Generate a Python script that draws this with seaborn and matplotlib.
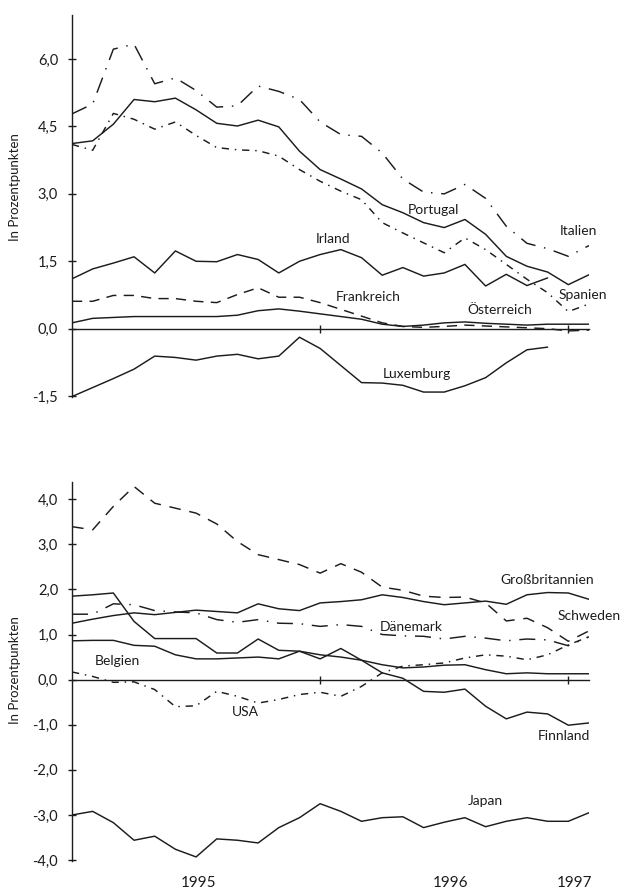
import matplotlib
matplotlib.use("Agg")
import matplotlib.pyplot as plt
import matplotlib.transforms as mtransforms
import pandas as pd
import seaborn as sns

sns.set_style("white")
plt.rcParams["font.family"] = ["Lato", "DejaVu Sans"]

# Monatsindex: 0 = Januar 1995 ... 25 = Februar 1997
jahr_grenzen = [12, 24]
jahre = ["1995", "1996", "1997"]
jahr_pos = [6.1, 18.3, 24.3]

# Oberes Bild: EU-Länder mit hohem Zinsabstand
portugal = [4.12, 4.18, 4.55, 5.10, 5.05, 5.13, 4.87, 4.57, 4.51, 4.64, 4.49, 3.95, 3.54,
            3.33, 3.11, 2.76, 2.58, 2.36, 2.25, 2.43, 2.10, 1.61, 1.39, 1.26, 0.98, 1.20]
italien = [4.78, 5.00, 6.22, 6.33, 5.45, 5.58, 5.30, 4.93, 4.96, 5.40, 5.28, 5.10, 4.60,
           4.32, 4.28, 3.91, 3.33, 3.04, 3.00, 3.21, 2.90, 2.28, 1.90, 1.78, 1.61, 1.85]
spanien = [4.10, 3.97, 4.79, 4.66, 4.44, 4.60, 4.30, 4.03, 3.98, 3.96, 3.84, 3.54, 3.28,
           3.06, 2.87, 2.36, 2.13, 1.91, 1.69, 2.02, 1.76, 1.43, 1.10, 0.80, 0.38, 0.55]
irland = [1.11, 1.33, 1.46, 1.60, 1.24, 1.73, 1.50, 1.49, 1.65, 1.54, 1.24, 1.50, 1.65,
          1.76, 1.58, 1.19, 1.36, 1.17, 1.24, 1.43, 0.95, 1.21, 0.96, 1.13]
frankreich = [0.61, 0.61, 0.74, 0.74, 0.67, 0.67, 0.61, 0.58, 0.76, 0.91, 0.70, 0.70, 0.58,
              0.43, 0.28, 0.13, 0.05, 0.03, 0.05, 0.08, 0.06, 0.04, 0.02, 0.00, -0.05, -0.03]
oesterreich = [0.13, 0.23, 0.25, 0.27, 0.27, 0.27, 0.27, 0.27, 0.30, 0.40, 0.44, 0.39, 0.33,
               0.27, 0.21, 0.10, 0.05, 0.08, 0.13, 0.15, 0.12, 0.10, 0.08, 0.10, 0.10, 0.10]
luxemburg = [-1.51, -1.31, -1.11, -0.90, -0.61, -0.64, -0.70, -0.61, -0.57, -0.67, -0.61, -0.19,
             -0.44, -0.82, -1.20, -1.21, -1.26, -1.41, -1.41, -1.27, -1.09, -0.76, -0.47, -0.41]

# Unteres Bild: übrige Länder
schweden = [3.39, 3.32, 3.84, 4.28, 3.91, 3.80, 3.69, 3.45, 3.06, 2.77, 2.66, 2.55, 2.36,
            2.57, 2.38, 2.05, 1.98, 1.85, 1.82, 1.83, 1.70, 1.30, 1.36, 1.15, 0.85, 1.08]
grossbritannien = [1.25, 1.34, 1.42, 1.48, 1.44, 1.49, 1.54, 1.51, 1.48, 1.68, 1.57, 1.53, 1.70,
                   1.73, 1.77, 1.88, 1.82, 1.73, 1.66, 1.70, 1.74, 1.67, 1.88, 1.93, 1.92, 1.78]
daenemark = [1.45, 1.45, 1.68, 1.66, 1.53, 1.50, 1.48, 1.33, 1.27, 1.33, 1.25, 1.24, 1.18,
             1.22, 1.18, 1.00, 0.97, 0.96, 0.90, 0.96, 0.92, 0.86, 0.90, 0.88, 0.75, 0.95]
finnland = [1.85, 1.88, 1.92, 1.29, 0.91, 0.91, 0.91, 0.59, 0.59, 0.90, 0.65, 0.63, 0.46,
            0.69, 0.43, 0.15, 0.03, -0.26, -0.28, -0.21, -0.59, -0.87, -0.72, -0.76, -1.01, -0.96]
belgien = [0.86, 0.87, 0.87, 0.76, 0.74, 0.55, 0.46, 0.46, 0.48, 0.50, 0.46, 0.63, 0.55,
           0.50, 0.43, 0.33, 0.26, 0.28, 0.32, 0.33, 0.22, 0.13, 0.15, 0.13, 0.13, 0.13]
usa = [0.17, 0.07, -0.06, -0.05, -0.22, -0.60, -0.58, -0.26, -0.37, -0.52, -0.44, -0.33, -0.28,
       -0.37, -0.15, 0.15, 0.30, 0.33, 0.37, 0.48, 0.55, 0.52, 0.44, 0.55, 0.77, 0.95]
japan = [-3.00, -2.92, -3.17, -3.56, -3.47, -3.76, -3.93, -3.53, -3.56, -3.62, -3.28, -3.06, -2.75,
         -2.92, -3.14, -3.06, -3.04, -3.28, -3.16, -3.06, -3.26, -3.14, -3.06, -3.14, -3.14, -2.95]

oben = {"Portugal": portugal, "Italien": italien, "Spanien": spanien, "Irland": irland,
        "Frankreich": frankreich, "Österreich": oesterreich, "Luxemburg": luxemburg}
unten = {"Schweden": schweden, "Großbritannien": grossbritannien, "Dänemark": daenemark,
         "Finnland": finnland, "Belgien": belgien, "USA": usa, "Japan": japan}

striche = {
    "Portugal": "", "Italien": (11, 6, 1, 6), "Spanien": (5, 4, 1, 4), "Irland": "",
    "Frankreich": (7, 5), "Österreich": "", "Luxemburg": "",
    "Schweden": (8, 6), "Großbritannien": "", "Dänemark": (11, 6, 1, 6),
    "Finnland": "", "Belgien": "", "USA": (5, 4, 1, 4), "Japan": "",
}

# Beschriftungen direkt an den Kurven (Monatsindex, Wert)
beschr_oben = [("Portugal", 17.5, 2.64), ("Italien", 24.5, 2.18), ("Irland", 12.6, 2.00),
               ("Frankreich", 14.3, 0.71), ("Spanien", 24.7, 0.76), ("Österreich", 20.7, 0.42),
               ("Luxemburg", 16.7, -1.00)]
beschr_unten = [("Großbritannien", 23.0, 2.21), ("Schweden", 25.0, 1.42), ("Dänemark", 16.4, 1.17),
                ("Belgien", 2.2, 0.42), ("USA", 8.4, -0.72), ("Finnland", 23.8, -1.25),
                ("Japan", 20.0, -2.68)]

ticks_oben = [-1.5, 0.0, 1.5, 3.0, 4.5, 6.0]
ticks_unten = [-4.0, -3.0, -2.0, -1.0, 0.0, 1.0, 2.0, 3.0, 4.0]

LINIE = "#1c1c1c"


def lang(reihen):
    zeilen = []
    for land, werte in reihen.items():
        for i, w in enumerate(werte):
            zeilen.append((land, i, w))
    return pd.DataFrame(zeilen, columns=["land", "monat", "wert"])


def komma(v):
    return f"{v:.1f}".replace(".", ",")


fig = plt.figure(figsize=(6.23, 8.91), dpi=100)
W, H = 623, 891
ax1 = fig.add_axes([72 / W, 1 - 397 / H, 517 / W, 382 / H])
ax2 = fig.add_axes([72 / W, 1 - 861 / H, 517 / W, 379 / H])

for ax, reihen, beschr, yticks, ylim, ylab_y in [
    (ax1, oben, beschr_oben, ticks_oben, (-1.52, 6.98), 0.55),
    (ax2, unten, beschr_unten, ticks_unten, (-4.02, 4.38), 0.505),
]:
    df = lang(reihen)
    sns.lineplot(data=df, x="monat", y="wert", hue="land", style="land",
                 palette={k: LINIE for k in reihen}, dashes={k: striche[k] for k in reihen},
                 linewidth=1.05, errorbar=None, legend=False, ax=ax)
    ax.set_xlim(0, 25)
    ax.set_ylim(*ylim)
    for s in ("top", "right"):
        ax.spines[s].set_visible(False)
    ax.spines["bottom"].set_position(("data", 0))
    ax.spines["bottom"].set_linewidth(1.0)
    ax.spines["left"].set_linewidth(1.0)
    ax.spines["bottom"].set_color(LINIE)
    ax.spines["left"].set_color(LINIE)
    ax.set_xticks(jahr_grenzen)
    ax.set_xticklabels([])
    ax.set_yticks(yticks)
    ax.set_yticklabels([komma(v) for v in yticks])
    ax.tick_params(axis="y", direction="inout", length=6, width=1.0, pad=7,
                   labelsize=10.5, colors=LINIE, left=True)
    ax.tick_params(axis="x", direction="inout", length=6, width=1.0, colors=LINIE, bottom=True)
    ax.set_xlabel("")
    ax.set_ylabel("In Prozentpunkten", fontsize=9.5, color=LINIE)
    ax.yaxis.set_label_coords(-0.098, ylab_y)
    for text, x, y in beschr:
        ax.text(x, y, text, ha="center", va="center", fontsize=10, color=LINIE)

trans = mtransforms.blended_transform_factory(ax2.transData, ax2.transAxes)
for jahr, x in zip(jahre, jahr_pos):
    ax2.text(x, -0.058, jahr, transform=trans, ha="center", va="center",
             fontsize=11, color=LINIE)

fig.savefig("out.png", dpi=100, facecolor="white")
